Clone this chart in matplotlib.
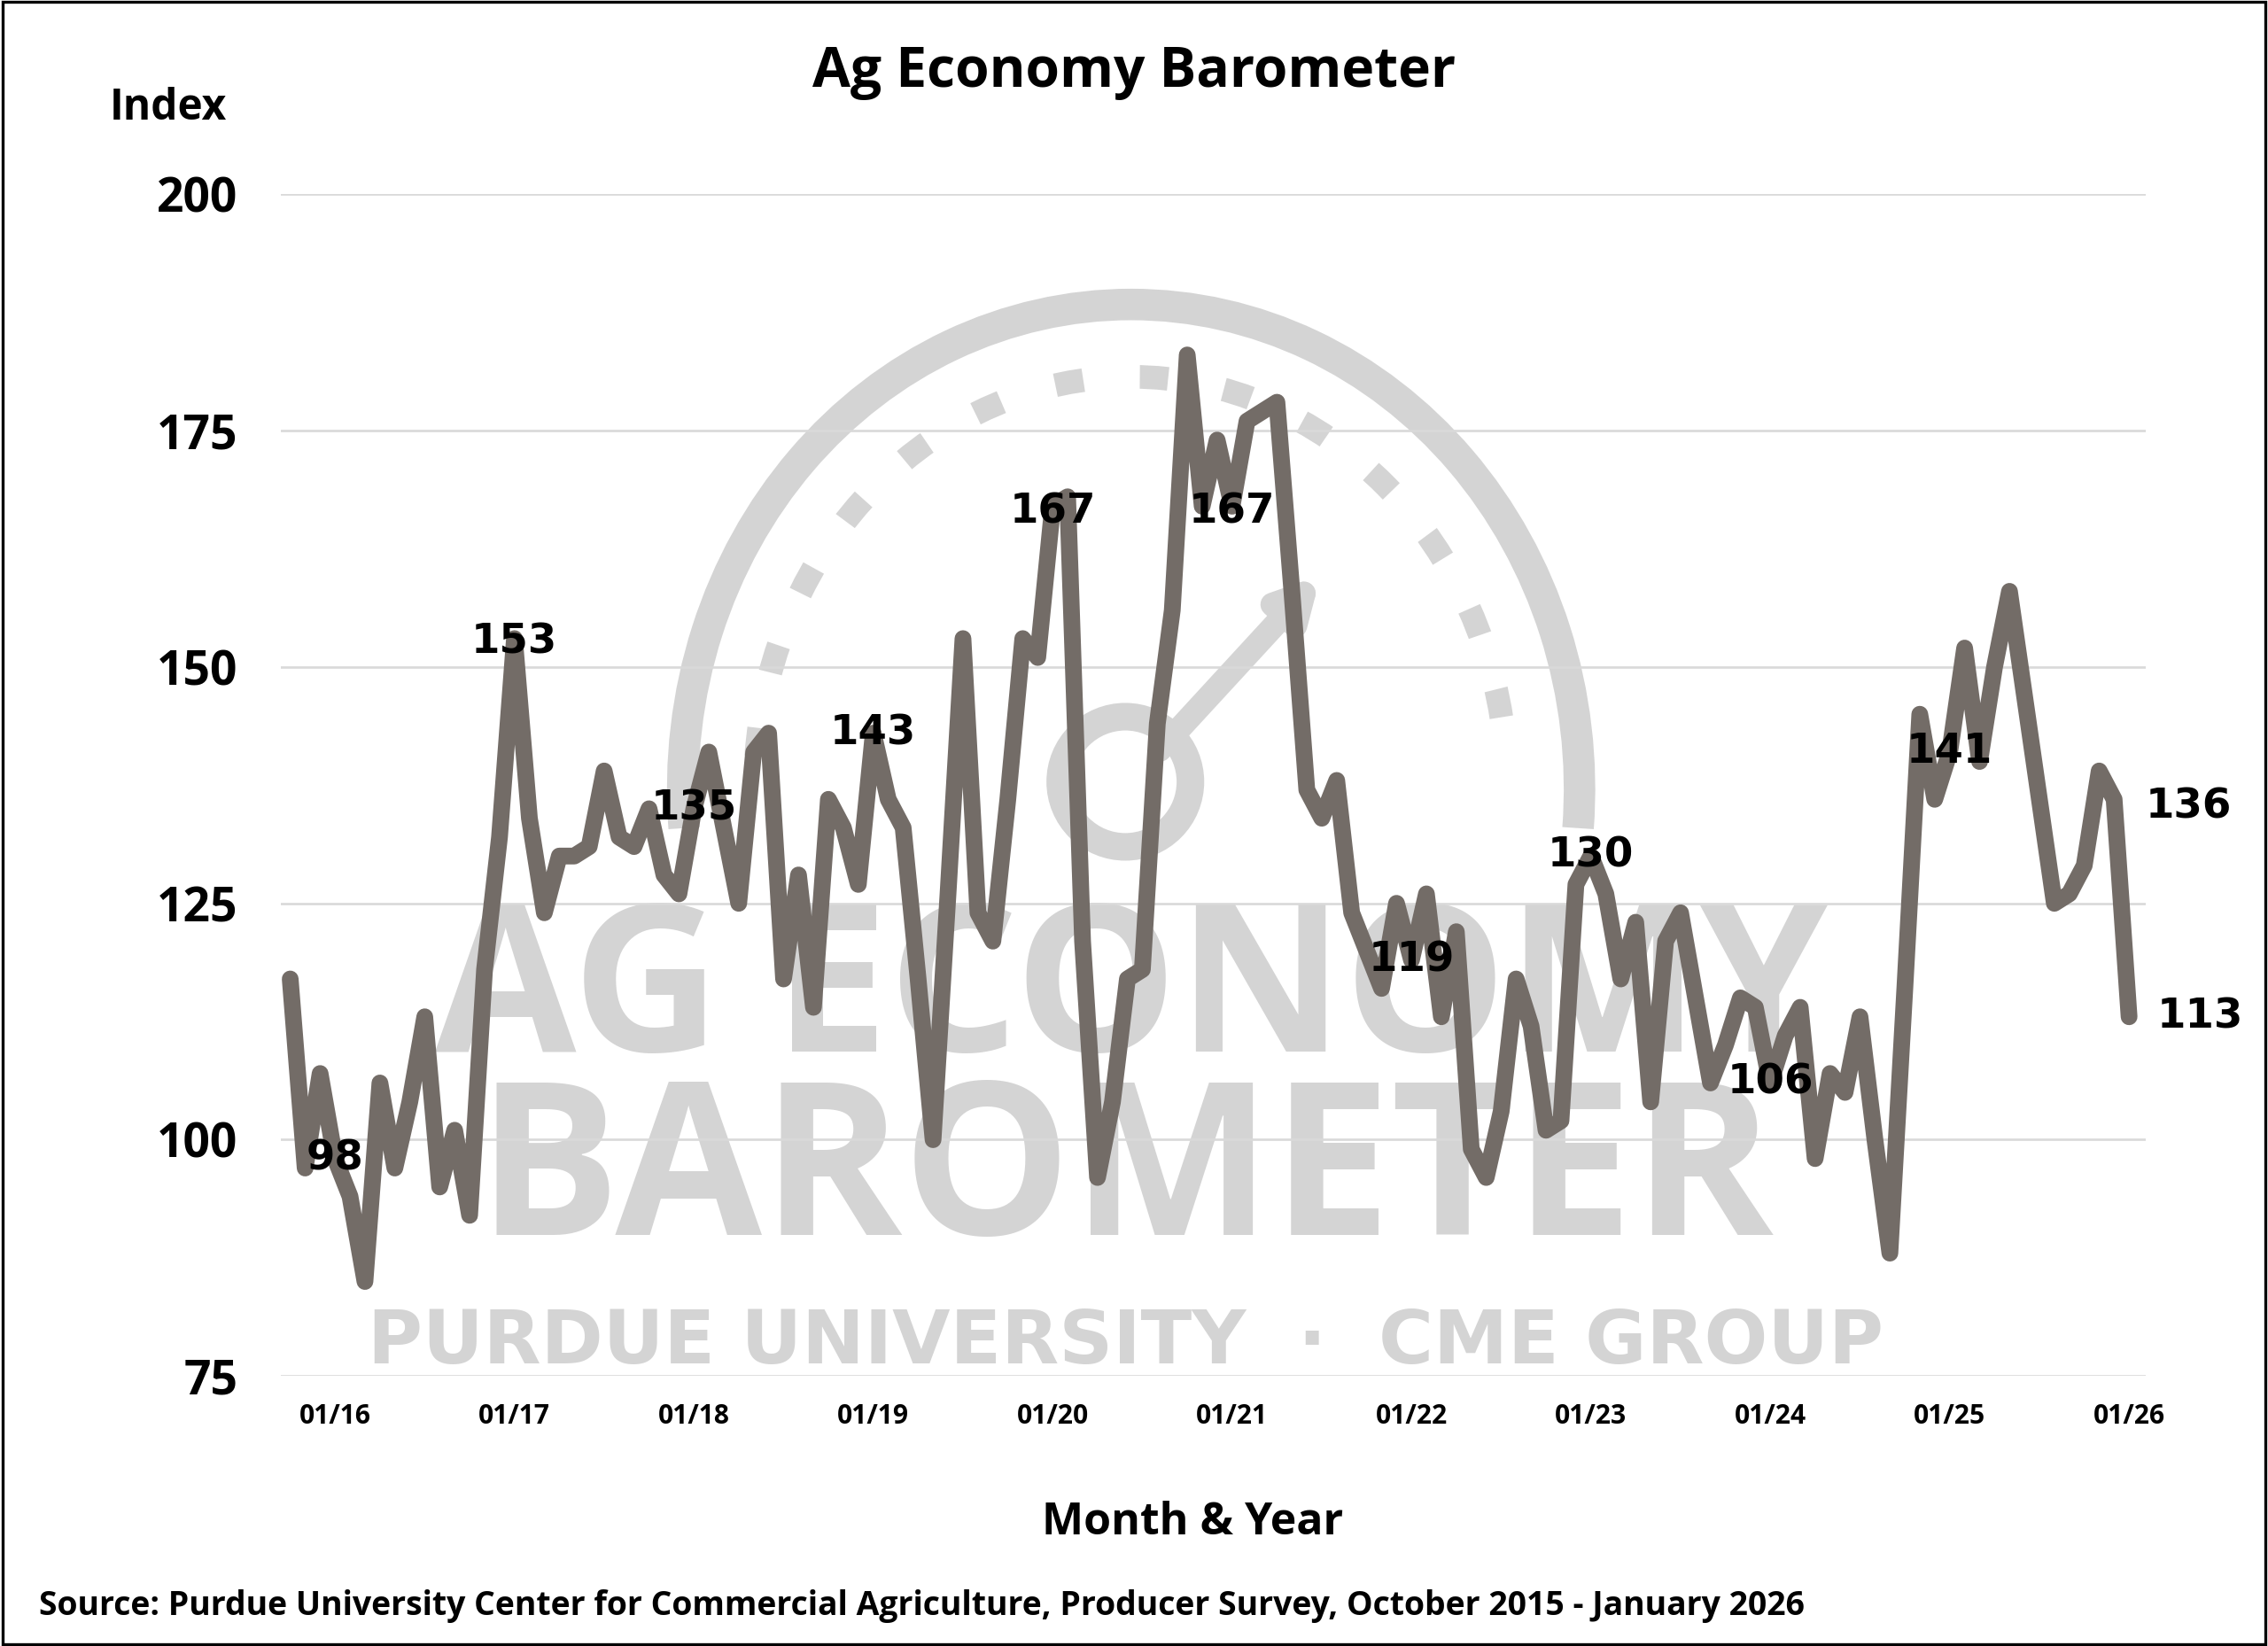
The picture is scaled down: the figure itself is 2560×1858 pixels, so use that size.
import numpy as np
import matplotlib
matplotlib.use("Agg")
import matplotlib.pyplot as plt
from matplotlib.patches import Arc, Circle, Rectangle

# monthly barometer readings, Oct 2015 - Jan 2026
v2015 = [117, 97, 107]
v2016 = [98, 94, 85, 106, 97, 104, 113, 95, 101, 92, 118, 132]
v2017 = [153, 134, 124, 130, 130, 131, 139, 132, 131, 135, 128, 126]
v2018 = [135, 141, 133, 125, 141, 143, 117, 128, 114, 136, 133, 127]
v2019 = [143, 136, 133, 117, 100, 126, 153, 124, 121, 136, 153, 151]
v2020 = [167, 168, 121, 96, 104, 117, 118, 144, 156, 183, 167, 174]
v2021 = [167, 176, 177, 178, 158, 137, 134, 138, 124, 120, 116, 125]
v2022 = [119, 126, 113, 122, 99, 96, 103, 117, 112, 101, 102, 127]
v2023 = [130, 126, 117, 123, 104, 121, 124, 115, 106, 110, 115, 114]
v2024 = [106, 111, 114, 98, 107, 105, 113, 100, 88, 116, 145, 136]
v2025 = [141, 152, 140, 150, 158, 147, 136, 125, 126, 129, 139, 136]
v2026 = [113]
values = v2015 + v2016 + v2017 + v2018 + v2019 + v2020 + v2021 + v2022 + v2023 + v2024 + v2025 + v2026

tick_labels = ["01/16", "01/17", "01/18", "01/19", "01/20", "01/21",
               "01/22", "01/23", "01/24", "01/25", "01/26"]
# labelled points: month index -> value shown
label_idx = [3, 15, 27, 39, 51, 63, 75, 87, 99, 111, 122, 123]
label_off = [(0, 0), (0, -2), (0, 0), (0, 0), (0, -3), (0, -3),
             (0, 0), (0, 0), (0, 0), (0, 0), (38, -4), (36, 0)]

x = np.arange(len(values))
line_color = "#736c67"
wm = "#d4d4d4"

fig = plt.figure(figsize=(16, 11.6125), dpi=160)
fig.patches.append(Rectangle((0.001, 0.001), 0.998, 0.998, transform=fig.transFigure,
                             fill=False, edgecolor="black", linewidth=1.5))

# watermark layer (pixel coords of a 1568x1137 canvas, y down)
wax = fig.add_axes([0, 0, 1, 1], zorder=0)
wax.set_xlim(0, 1568)
wax.set_ylim(1137, 0)
wax.set_aspect("equal")
wax.axis("off")
wax.add_patch(Arc((782, 545), 620, 670, theta1=175, theta2=365, color=wm, lw=16))
wax.add_patch(Arc((782, 545), 520, 570, theta1=185, theta2=355, color=wm, lw=12,
                  linestyle=(0, (1.2, 2.4))))
wax.add_patch(Circle((778, 540), 45, fill=False, edgecolor=wm, lw=14))
wax.annotate("", xy=(915, 395), xytext=(800, 520),
             arrowprops=dict(arrowstyle="-|>,head_length=1.5,head_width=0.8", color=wm, lw=12))
wax.text(782, 690, "AG ECONOMY", ha="center", va="center", fontsize=104,
         fontweight="bold", color=wm, family="Open Sans")
wax.text(778, 815, "BAROMETER", ha="center", va="center", fontsize=108,
         fontweight="bold", color=wm, family="Open Sans")
wax.text(778, 928, "PURDUE UNIVERSITY  ·  CME GROUP", ha="center", va="center",
         fontsize=38, fontweight="bold", color=wm, family="DejaVu Sans")

ax = fig.add_axes([0.124, 0.164, 0.822, 0.718], zorder=1)
ax.patch.set_alpha(0)
ax.plot(x, values, color=line_color, linewidth=8.5, solid_joinstyle="round",
        solid_capstyle="round", zorder=3)
ax.set_xlim(-0.6, 124.1)
ax.set_ylim(75, 200)
ax.set_yticks([75, 100, 125, 150, 175, 200])
ax.set_xticks(np.arange(3, 124, 12))
ax.set_xticklabels(tick_labels)
ax.grid(axis="y", color="#d9d9d9", linewidth=1.2)
ax.set_axisbelow(True)
for s in ax.spines.values():
    s.set_visible(False)
ax.tick_params(length=0)
ax.tick_params(axis="y", labelsize=24, pad=22)
ax.tick_params(axis="x", labelsize=13.5, pad=14)
for t in ax.get_yticklabels() + ax.get_xticklabels():
    t.set_fontweight("bold")
    t.set_family("Open Sans")

for i, (dx, dy) in zip(label_idx, label_off):
    ax.annotate(str(values[i]), (x[i], values[i]), xytext=(dx, dy),
                textcoords="offset points", ha="center", va="center",
                fontsize=21, fontweight="bold", color="black", zorder=4)

fig.text(0.5, 0.956, "Ag Economy Barometer", ha="center", va="center",
         fontsize=28, fontweight="bold", family="Open Sans")
fig.text(0.074, 0.934, "Index", ha="center", va="center",
         fontsize=21.5, fontweight="bold", family="Open Sans")
fig.text(0.526, 0.075, "Month & Year", ha="center", va="center",
         fontsize=22.5, fontweight="bold", family="Open Sans")
fig.text(0.017, 0.024, "Source: Purdue University Center for Commercial Agriculture, Producer Survey, October 2015 - January 2026",
         ha="left", va="center", fontsize=16.8, fontweight="bold", family="Open Sans")

fig.savefig("out.png", dpi=160)
